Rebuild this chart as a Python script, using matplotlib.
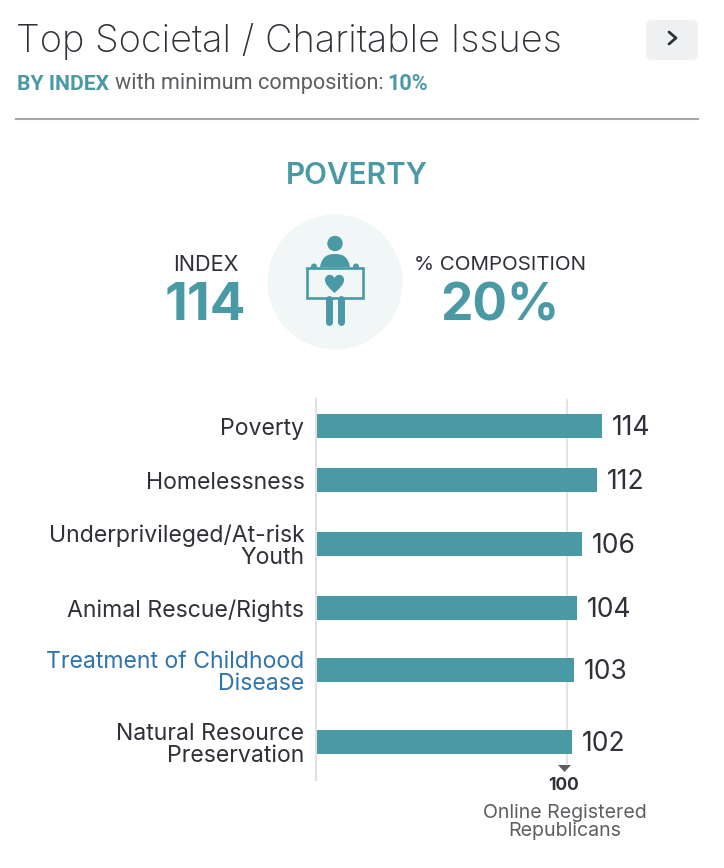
import matplotlib

matplotlib.use("Agg")
import matplotlib.pyplot as plt
from matplotlib.patches import Circle, FancyBboxPatch, PathPatch, Polygon, Rectangle
from matplotlib.path import Path

categories = [
    "Poverty",
    "Homelessness",
    "Underprivileged/At-risk\nYouth",
    "Animal Rescue/Rights",
    "Treatment of Childhood\nDisease",
    "Natural Resource\nPreservation",
]
index_values = [114, 112, 106, 104, 103, 102]
baseline_value = 100

# row centres in pixels, rows with two-line labels are taller
row_y = [426, 480, 544, 608, 670, 742]

TEAL = "#4a9aa5"
DARK = "#2f3138"
GREY = "#5c5e62"
BLUE = "#2f74ad"
FONT = "Inter"
W, H = 724, 868

plt.rcParams["font.family"] = [FONT, "DejaVu Sans"]

fig = plt.figure(figsize=(W / 100, H / 100), dpi=100, facecolor="white")

# overlay in pixel coords for header and icon
bg = fig.add_axes([0, 0, 1, 1])
bg.set_xlim(0, W)
bg.set_ylim(H, 0)
bg.axis("off")

bg.text(16, 41, "Top Societal / Charitable Issues", fontsize=27.35, color=DARK,
        fontweight="light", va="center", ha="left")

# next button
bg.add_patch(FancyBboxPatch((648, 22), 48, 36, boxstyle="round,pad=0,rounding_size=4",
                            fc="#eff0f2", ec="#eff0f2", lw=3))
bg.plot([669, 676, 669], [32, 38, 44], color=DARK, lw=2, solid_capstyle="round")

# subtitle pieces
sub = "Roboto"
bg.text(17, 84, "BY INDEX", fontsize=15.2, color=TEAL, fontweight="bold", family=sub, va="center")
bg.text(115, 84, "with minimum composition:", fontsize=15.6, color=GREY, family=sub, va="center")
bg.text(387, 84, "10%", fontsize=15.6, color=TEAL, fontweight="bold", family=sub, va="center")
bg.plot([16, 698], [119, 119], color="#a8a8a8", lw=1.5)

bg.text(357, 176, "POVERTY", fontsize=21.4, color=TEAL, fontweight="semibold", ha="center", va="center")
bg.text(205.5, 265, "INDEX", fontsize=15.6, color=DARK, ha="center", va="center")
bg.text(205.5, 307, str(index_values[0]), fontsize=38, color=TEAL, fontweight="bold", ha="center", va="center")
bg.text(500.5, 265, "% COMPOSITION", fontsize=14.8, color=DARK, ha="center", va="center")
bg.text(499.5, 307, "20%", fontsize=37, color=TEAL, fontweight="bold", ha="center", va="center")

# icon: person holding a sign
bg.add_patch(Circle((335, 282), 67.5, fc="#f1f6f7", ec="none"))
bg.add_patch(Circle((335, 243.5), 7.7, fc=TEAL, ec="none"))
body = Path(
    [(320, 267), (322, 256), (328, 254), (335, 254), (342, 254), (348, 256), (350, 267), (320, 267)],
    [Path.MOVETO, Path.CURVE4, Path.CURVE4, Path.CURVE4, Path.CURVE4, Path.CURVE4, Path.CURVE4, Path.CLOSEPOLY],
)
bg.add_patch(PathPatch(body, fc=TEAL, ec="none"))
bg.add_patch(Rectangle((307, 267.5), 56, 30.5, fc="none", ec=TEAL, lw=1.9))
bg.add_patch(Circle((314, 266.5), 3, fc=TEAL, ec="none"))
bg.add_patch(Circle((356, 266.5), 3, fc=TEAL, ec="none"))
heart = Path(
    [(334.5, 293), (328, 287), (325, 284), (325, 280), (325, 274), (332, 273), (334.5, 278),
     (337, 273), (344, 274), (344, 280), (344, 284), (341, 287), (334.5, 293)],
    [Path.MOVETO] + [Path.CURVE4] * 12,
)
bg.add_patch(PathPatch(heart, fc=TEAL, ec="none"))
bg.plot([329, 329], [299, 322], color=TEAL, lw=5, solid_capstyle="round")
bg.plot([340.5, 340.5], [299, 322], color=TEAL, lw=5, solid_capstyle="round")

# bar chart, about 2.51 px per index point
ax_left, ax_right, ax_top, ax_bottom = 315.5, 698, 399, 780
ax = fig.add_axes([ax_left / W, 1 - ax_bottom / H, (ax_right - ax_left) / W, (ax_bottom - ax_top) / H])
ax.patch.set_alpha(0)
ax.set_xlim(0, (ax_right - ax_left) / 2.51)
ax.set_ylim(ax_bottom, ax_top)
for s in ["top", "right", "bottom"]:
    ax.spines[s].set_visible(False)
ax.spines["left"].set_color("#e0e0e0")
ax.spines["left"].set_linewidth(1.5)
ax.plot([baseline_value, baseline_value], [ax_top, 763], color="#e4e4e4", lw=1.5, zorder=1)
ax.barh(row_y, index_values, height=24, color=TEAL, zorder=2)
ax.set_xticks([])
ax.set_yticks(row_y)
ax.set_yticklabels(categories, fontsize=16.6, color=DARK, linespacing=1.0, ha="right")
ax.tick_params(axis="y", length=0, pad=8)
ax.get_yticklabels()[4].set_color(BLUE)
for y, v in zip(row_y, index_values):
    ax.text(v + 4, y + 2, str(v), fontsize=19, color=DARK, va="center", ha="left", zorder=3)

bg.add_patch(Polygon([(558, 765), (571, 765), (564.5, 772)], fc=GREY, ec="none"))
bg.text(564, 786, str(baseline_value), fontsize=12.5, color=DARK, fontweight="bold", ha="center", va="center")
bg.text(565, 822, "Online Registered\nRepublicans", fontsize=14.1, color=GREY, ha="center", va="center", linespacing=1.0)

fig.savefig("out.png", dpi=100)
